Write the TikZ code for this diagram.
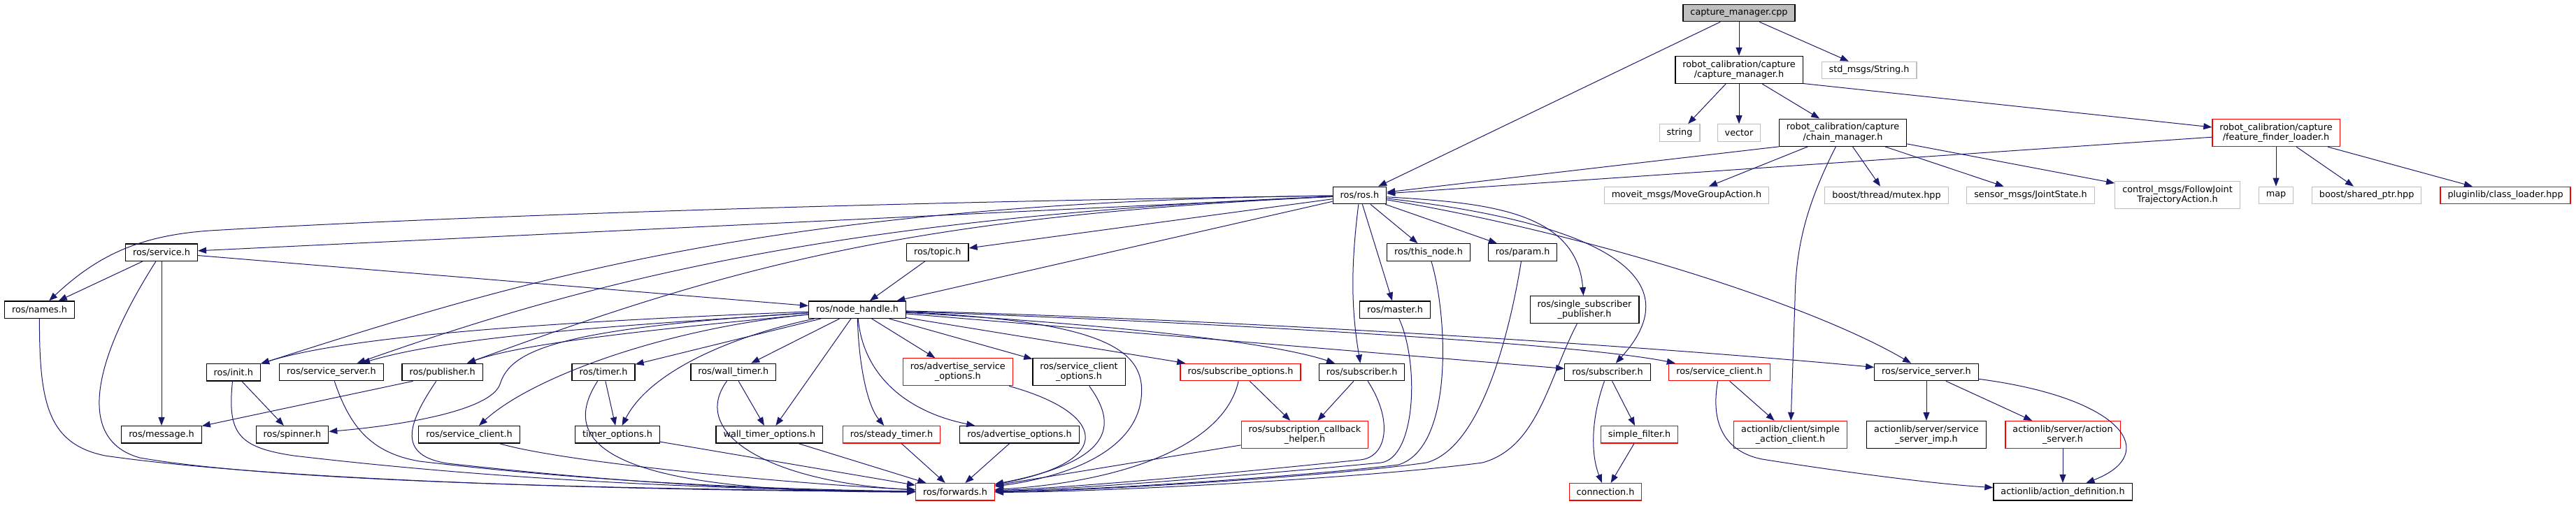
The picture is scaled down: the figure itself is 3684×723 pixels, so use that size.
\documentclass[tikz,border=0pt]{standalone}
\usepackage{fontspec}
\setmainfont{DejaVu Sans}
\usepackage{xcolor}
\usetikzlibrary{arrows.meta}

\definecolor{edgeblue}{HTML}{191970}
\definecolor{extgray}{HTML}{BFBFBF}

\tikzset{
    box/.style={draw=black, line width=1.2pt, fill=white, inner xsep=10.5pt, inner ysep=4pt,
        minimum height=24.5pt, align=center, font=\fontsize{12.8pt}{14.6pt}\selectfont},
    hdr/.style={box},
    ext/.style={box, draw=extgray},
    trunc/.style={box, draw=red},
    rootfile/.style={box, fill=extgray},
    tall/.style={minimum height=39.1pt},
    dep/.style={->, draw=edgeblue, line width=1pt},
}

\begin{document}
\begin{tikzpicture}[>={Triangle[length=12pt,width=9pt]}, x=1pt, y=-1pt]
    \useasboundingbox (0,0) rectangle (3684,723);

    % Tầng trên
    \node[rootfile] (cpp) at (2487,18.5) {capture\_manager.cpp};
    \node[hdr, tall] (capmgr) at (2487,100) {robot\_calibration/capture\\/capture\_manager.h};
    \node[ext] (strmsg) at (2673,100.5) {std\_msgs/String.h};
    \node[ext] (strg) at (2402,190) {string};
    \node[ext] (vec) at (2487,190) {vector};
    \node[hdr, tall] (chain) at (2635.5,189.7) {robot\_calibration/capture\\/chain\_manager.h};
    \node[trunc, tall] (ffl) at (3255,190) {robot\_calibration/capture\\/feature\_finder\_loader.h};

    % Hàng ros/ros.h
    \node[hdr] (ros) at (1944.4,279.5) {ros/ros.h};
    \node[ext] (moveit) at (2412,279.5) {moveit\_msgs/MoveGroupAction.h};
    \node[ext] (mutex) at (2698,279.5) {boost/thread/mutex.hpp};
    \node[ext] (jstate) at (2904,279.5) {sensor\_msgs/JointState.h};
    \node[ext, tall] (fjta) at (3114,279) {control\_msgs/FollowJoint\\TrajectoryAction.h};
    \node[ext] (mapn) at (3255,279.5) {map};
    \node[ext] (sptr) at (3384.6,279.5) {boost/shared\_ptr.hpp};
    \node[trunc] (cload) at (3583,279.5) {pluginlib/class\_loader.hpp};

    \node[hdr] (srv) at (231,361.3) {ros/service.h};
    \node[hdr] (topic) at (1340.8,361) {ros/topic.h};
    \node[hdr] (thisnode) at (2043,361) {ros/this\_node.h};
    \node[hdr] (param) at (2177.6,361) {ros/param.h};

    \node[hdr] (names) at (56.5,443.2) {ros/names.h};
    \node[hdr] (nh) at (1226,443.2) {ros/node\_handle.h};
    \node[hdr] (master) at (1995,443.2) {ros/master.h};
    \node[hdr, tall] (ssp) at (2266,443.2) {ros/single\_subscriber\\\_publisher.h};

    % Hàng giữa
    \node[hdr] (init) at (333.8,532.8) {ros/init.h};
    \node[hdr] (ssl) at (474,532.5) {ros/service\_server.h};
    \node[hdr] (pub) at (632.6,532.5) {ros/publisher.h};
    \node[hdr] (timer) at (863,532.5) {ros/timer.h};
    \node[hdr] (wt) at (1048.8,532.5) {ros/wall\_timer.h};
    \node[trunc, tall] (aso) at (1369.8,532.3) {ros/advertise\_service\\\_options.h};
    \node[hdr, tall] (sco) at (1543,532.3) {ros/service\_client\\\_options.h};
    \node[trunc] (so) at (1774,532.5) {ros/subscribe\_options.h};
    \node[hdr] (subl) at (1947.6,532.5) {ros/subscriber.h};
    \node[hdr] (subm) at (2299,532.5) {ros/subscriber.h};
    \node[trunc] (scr) at (2459,532.5) {ros/service\_client.h};
    \node[hdr] (ssr) at (2755,532.5) {ros/service\_server.h};

    % Hàng dưới
    \node[hdr] (msg) at (231,621.8) {ros/message.h};
    \node[hdr] (spin) at (418,621.8) {ros/spinner.h};
    \node[hdr] (scl) at (671,621.8) {ros/service\_client.h};
    \node[hdr] (tmo) at (883,621.8) {timer\_options.h};
    \node[hdr] (wto) at (1100.4,621.8) {wall\_timer\_options.h};
    \node[trunc] (st) at (1275,621.8) {ros/steady\_timer.h};
    \node[hdr] (ao) at (1458,621.8) {ros/advertise\_options.h};
    \node[trunc, tall] (sch) at (1866,622) {ros/subscription\_callback\\\_helper.h};
    \node[trunc] (sf) at (2344.6,621.8) {simple\_filter.h};
    \node[trunc, tall] (sac) at (2560.5,622) {actionlib/client/simple\\\_action\_client.h};
    \node[hdr, tall] (ssi) at (2755,622) {actionlib/server/service\\\_server\_imp.h};
    \node[trunc, tall] (asrv) at (2950,622) {actionlib/server/action\\\_server.h};

    \node[trunc] (fwd) at (1366,703.8) {ros/forwards.h};
    \node[trunc] (conn) at (2296,703.8) {connection.h};
    \node[hdr] (adef) at (2950,703.8) {actionlib/action\_definition.h};

    % Các cạnh phía trên
    \draw[dep] (cpp) -- (ros);
    \draw[dep] (cpp) -- (capmgr);
    \draw[dep] (cpp) -- (strmsg);
    \draw[dep] (capmgr) -- (strg);
    \draw[dep] (capmgr) -- (vec);
    \draw[dep] (capmgr) -- (chain);
    \draw[dep] (capmgr.-12) -- (ffl.175);
    \draw[dep] (chain.south west) -- (ros);
    \draw[dep] (chain) -- (moveit);
    \draw[dep] (chain) -- (mutex);
    \draw[dep] (chain) -- (jstate);
    \draw[dep] (chain.-10) -- (fjta);
    \draw[dep] (chain) .. controls (2585,290) and (2568,350) .. (2567,430) -- (sac);
    \draw[dep] (ffl) -- (ros);
    \draw[dep] (ffl) -- (mapn);
    \draw[dep] (ffl) -- (sptr);
    \draw[dep] (ffl) -- (cload);

    % Từ ros/ros.h
    \draw[dep] (ros) .. controls (1200,290) and (600,312) .. (300,330)
        .. controls (200,337) and (140,365) .. (names);
    \draw[dep] (ros) -- (srv);
    \draw[dep] (ros) .. controls (1100,290) and (750,400) .. (init);
    \draw[dep] (ros) .. controls (1200,310) and (850,400) .. (ssl);
    \draw[dep] (ros) .. controls (1300,310) and (1050,380) .. (pub);
    \draw[dep] (ros) -- (topic);
    \draw[dep] (ros) -- (nh);
    \draw[dep] (ros) -- (thisnode);
    \draw[dep] (ros) -- (param);
    \draw[dep] (ros) -- (master);
    \draw[dep] (ros) .. controls (1932,380) and (1932,440) .. (subl);
    \draw[dep] (ros) .. controls (2120,290) and (2255,300) .. (ssp);
    \draw[dep] (ros) .. controls (2300,320) and (2420,400) .. (subm);
    \draw[dep] (ros) .. controls (2250,330) and (2580,430) .. (ssr);

    % ros/service.h và ros/topic.h
    \draw[dep] (srv) -- (names);
    \draw[dep] (srv) -- (msg);
    \draw[dep] (srv) -- (nh);
    \draw[dep] (srv) .. controls (130,520) and (110,630) .. (200,655)
        .. controls (400,690) and (900,700) .. (fwd);
    \draw[dep] (names) .. controls (56,580) and (70,635) .. (150,652)
        .. controls (400,688) and (900,702) .. (fwd);
    \draw[dep] (topic) -- (nh);

    % Từ ros/node_handle.h
    \draw[dep] (nh) .. controls (800,460) and (500,480) .. (init);
    \draw[dep] (nh) .. controls (900,465) and (650,480) .. (ssl);
    \draw[dep] (nh) .. controls (950,470) and (750,490) .. (pub);
    \draw[dep] (nh) .. controls (800,470) and (730,500) .. (715,550)
        .. controls (700,590) and (560,610) .. (spin);
    \draw[dep] (nh) .. controls (950,470) and (760,540) .. (scl);
    \draw[dep] (nh) -- (timer);
    \draw[dep] (nh) .. controls (1050,480) and (930,530) .. (tmo);
    \draw[dep] (nh) -- (wt);
    \draw[dep] (nh) -- (wto);
    \draw[dep] (nh) .. controls (1228,520) and (1240,580) .. (st);
    \draw[dep] (nh) .. controls (1235,540) and (1300,590) .. (ao);
    \draw[dep] (nh) -- (aso);
    \draw[dep] (nh) -- (sco);
    \draw[dep] (nh) -- (so);
    \draw[dep] (nh) .. controls (1600,465) and (1820,490) .. (subl);
    \draw[dep] (nh) -- (subm);
    \draw[dep] (nh) .. controls (1700,460) and (2250,490) .. (scr);
    \draw[dep] (nh) .. controls (1700,455) and (2300,490) .. (ssr);
    \draw[dep] (nh) .. controls (1580,460) and (1640,500) .. (1632,570)
        .. controls (1624,640) and (1540,680) .. (fwd);

    % Hàng giữa xuống ros/forwards.h
    \draw[dep] (init) -- (spin);
    \draw[dep] (init) .. controls (325,620) and (340,640) .. (420,652)
        .. controls (700,685) and (1000,700) .. (fwd);
    \draw[dep] (ssl) .. controls (500,610) and (530,648) .. (600,660)
        .. controls (850,690) and (1100,700) .. (fwd);
    \draw[dep] (pub.197) -- (msg);
    \draw[dep] (pub) .. controls (580,610) and (570,652) .. (640,663)
        .. controls (900,692) and (1100,702) .. (fwd);
    \draw[dep] (timer) -- (tmo);
    \draw[dep] (timer) .. controls (780,660) and (950,705) .. (fwd);
    \draw[dep] (wt) -- (wto);
    \draw[dep] (wt) .. controls (985,620) and (1100,690) .. (fwd);
    \draw[dep] (scl) .. controls (800,660) and (1100,690) .. (fwd);
    \draw[dep] (tmo) -- (fwd);
    \draw[dep] (wto) -- (fwd);
    \draw[dep] (st) -- (fwd);
    \draw[dep] (ao) -- (fwd);
    \draw[dep] (aso) .. controls (1580,590) and (1600,660) .. (fwd);
    \draw[dep] (sco) .. controls (1600,610) and (1590,660) .. (fwd);
    \draw[dep] (so) -- (sch);
    \draw[dep] (so) .. controls (1750,640) and (1600,690) .. (fwd);
    \draw[dep] (sch) -- (fwd);
    \draw[dep] (subl) -- (sch);
    \draw[dep] (subl) .. controls (1992,600) and (1985,654) .. (1945,658)
        .. controls (1800,673) and (1550,697) .. (fwd);
    \draw[dep] (master) .. controls (2030,520) and (2025,655) .. (1975,662)
        .. controls (1830,676) and (1550,700) .. (fwd);
    \draw[dep] (thisnode) .. controls (2070,450) and (2080,640) .. (2000,665)
        .. controls (1850,683) and (1550,702) .. (fwd);
    \draw[dep] (param) .. controls (2160,470) and (2120,640) .. (2040,662)
        .. controls (1900,682) and (1550,703) .. (fwd);
    \draw[dep] (ssp) .. controls (2215,540) and (2200,640) .. (2120,662)
        .. controls (1950,685) and (1550,705) .. (fwd);

    % Phía phải
    \draw[dep] (subm) -- (sf);
    \draw[dep] (subm) .. controls (2275,600) and (2275,650) .. (conn);
    \draw[dep] (sf) -- (conn);
    \draw[dep] (scr) -- (sac);
    \draw[dep] (scr) .. controls (2445,610) and (2470,647) .. (2520,657)
        .. controls (2620,673) and (2760,692) .. (adef);
    \draw[dep] (ssr) -- (ssi);
    \draw[dep] (ssr) -- (asrv);
    \draw[dep] (ssr) .. controls (3040,570) and (3090,650) .. (adef);
    \draw[dep] (asrv) -- (adef);
\end{tikzpicture}
\end{document}
